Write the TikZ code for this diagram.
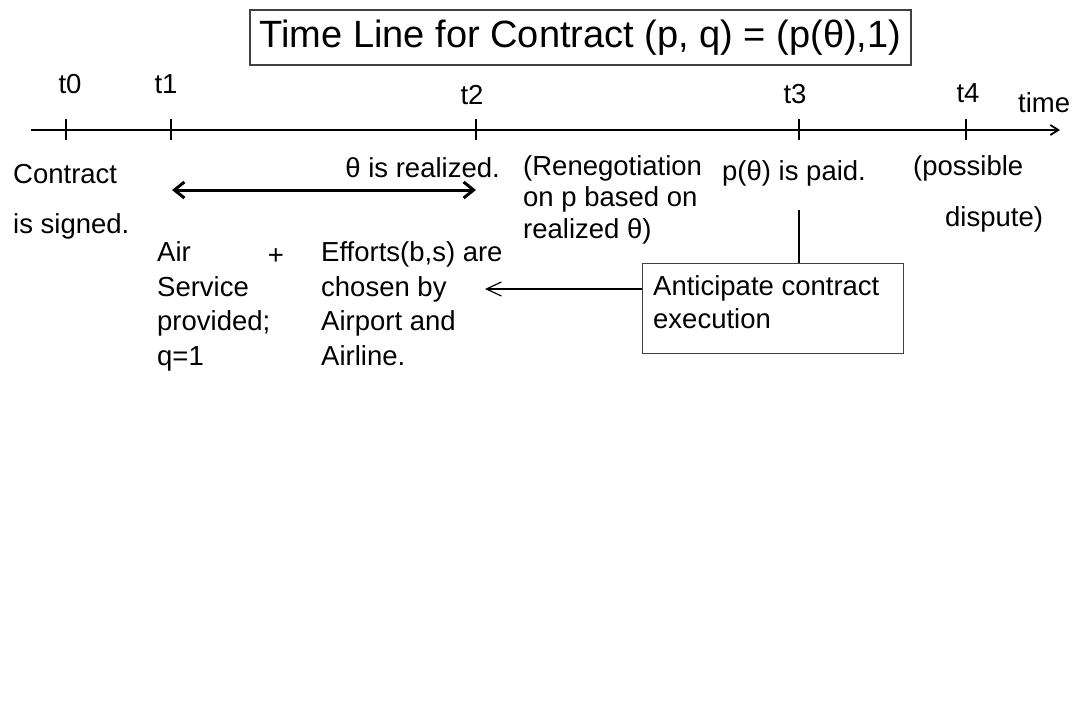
\documentclass[tikz,border=0pt]{standalone}
\usepackage{fontspec}
\setmainfont{Liberation Sans}
\usetikzlibrary{arrows.meta}
\begin{document}
\begin{tikzpicture}[x=1pt,y=-1pt,
  lbl/.style={inner sep=0pt, font=\fontsize{27.5}{34.5}\selectfont, align=left},
  tlbl/.style={inner sep=0pt, font=\fontsize{27.5}{33}\selectfont},
  tickline/.style={line width=1.8pt},
  axisline/.style={line width=1.8pt},
  boxstyle/.style={draw=black!75, line width=1.3pt, inner sep=0pt},
]
\useasboundingbox (0,0) rectangle (1077,728);
% title
\node[boxstyle, minimum width=661pt, minimum height=55pt,
  font=\fontsize{38}{44}\selectfont] (title) at (580.5,37.5)
  {Time Line for Contract (p, q) = (p(θ),1)};
% axis
\coordinate (axS) at (31,130);
\coordinate (axE) at (1060,130);
\draw[axisline, -{Straight Barb[length=8pt,width=10pt]}] (axS) -- (axE);
\foreach \n/\x in {0/66,1/171,2/476,3/799,4/966}{
  \coordinate (T\n) at (\x,130);
  \draw[tickline] (\x,119) -- (\x,140);
}
% time labels
\node[tlbl, anchor=base] (l0) at (70,93) {t0};
\node[tlbl, anchor=base] (l1) at (166,93) {t1};
\node[tlbl, anchor=base] (l2) at (472,104) {t2};
\node[tlbl, anchor=base] (l3) at (795,103) {t3};
\node[tlbl, anchor=base] (l4) at (968,102) {t4};
\node[tlbl, anchor=base west] (ltime) at (1018,112) {time};
% texts
\node[lbl, anchor=base west] (contract) at (13,183) {Contract};
\node[lbl, anchor=base west] (signed) at (13,233) {is signed.};
\node[lbl, anchor=base east] (theta) at (500,177) {θ is realized.};
\coordinate (dA) at (172,190);
\coordinate (dB) at (476,190);
\draw[line width=3pt, {Straight Barb[length=10pt,width=16pt]}-{Straight Barb[length=10pt,width=16pt]}] (dA) -- (dB);
\node[lbl, anchor=base west] (air) at (157,365) {Air\\Service\\provided;\\q=1};
\node[lbl, anchor=center] (plus) at (276,257) {+};
\node[lbl, anchor=base west] (efforts) at (321,365) {Efforts(b,s) are\\chosen by\\Airport and\\Airline.};
\node[lbl, font=\fontsize{27.5}{31.5}\selectfont, anchor=base west] (reneg) at (523,238) {(Renegotiation\\on p based on\\realized θ)};
\node[lbl, anchor=base west] (paid) at (722,180) {p(θ) is paid.};
\node[lbl, anchor=base west] (possible) at (913,175) {(possible};
\node[lbl, anchor=base west] (dispute) at (945,226) {dispute)};
% anticipate box
\node[boxstyle, minimum width=261pt, minimum height=90pt, anchor=north west] (ant) at (642,263) {};
\node[lbl, font=\fontsize{27.5}{33}\selectfont, anchor=base west] (anttext) at (653,328) {Anticipate contract\\execution};
\coordinate (vtop) at (799,210);
\draw[line width=1.8pt] (vtop) -- (vtop |- ant.north);
\coordinate (arrEnd) at (485,289);
\draw[line width=1.2pt, -{Straight Barb[length=15pt,width=14pt]}] (ant.west |- arrEnd) -- (arrEnd);
\end{tikzpicture}
\end{document}
